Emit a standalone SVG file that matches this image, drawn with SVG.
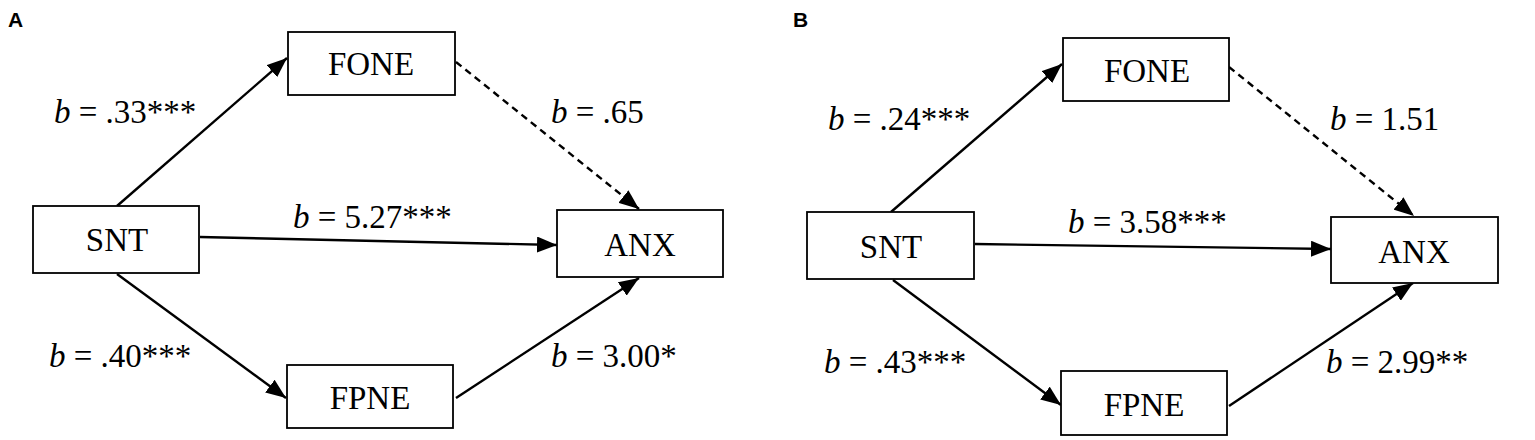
<svg xmlns="http://www.w3.org/2000/svg" width="1535" height="440" viewBox="0 0 1535 440">
<style>
.box{fill:#fff;stroke:#000;stroke-width:1.8}
.nt{font-family:"Liberation Serif",serif;font-size:33px;text-anchor:middle;fill:#000}
.lb{font-family:"Liberation Serif",serif;font-size:33px;fill:#000}
.pl{font-family:"Liberation Sans",Arial,sans-serif;font-size:21px;font-weight:bold;fill:#000}
.c{stroke:#000;stroke-width:2.4;fill:none;marker-end:url(#ah)}
.d{stroke-dasharray:7,5}
</style>
<defs>
<marker id="ah" markerUnits="userSpaceOnUse" markerWidth="22" markerHeight="16" refX="20" refY="8" orient="auto">
<path d="M0,0 L20,8 L0,16 Z" fill="#000"/>
</marker>
</defs>
<rect width="1535" height="440" fill="#fff"/>
<text class="pl" x="8" y="27">A</text>
<text class="pl" x="793" y="27">B</text>
<g id="connectors">
<line class="c" x1="117" y1="206" x2="287" y2="58"/>
<line class="c d" x1="456" y1="62" x2="639" y2="209"/>
<line class="c" x1="200" y1="237" x2="557" y2="245"/>
<line class="c" x1="117" y1="274" x2="286" y2="398"/>
<line class="c" x1="456" y1="398" x2="639" y2="278"/>
<line class="c" x1="891" y1="212" x2="1062" y2="64"/>
<line class="c d" x1="1229" y1="67" x2="1414" y2="216"/>
<line class="c" x1="975" y1="244" x2="1331" y2="249"/>
<line class="c" x1="893" y1="280" x2="1061" y2="405"/>
<line class="c" x1="1229" y1="406" x2="1413" y2="283"/>
</g>
<g id="A-FONE"><rect class="box" x="288" y="32" width="167" height="63"/><text class="nt" x="371" y="75">FONE</text></g>
<g id="A-SNT"><rect class="box" x="33" y="206" width="166" height="67"/><text class="nt" x="117" y="251">SNT</text></g>
<g id="A-ANX"><rect class="box" x="557" y="210" width="166" height="67"/><text class="nt" x="640" y="256">ANX</text></g>
<g id="A-FPNE"><rect class="box" x="287" y="365" width="166" height="63"/><text class="nt" x="370" y="409">FPNE</text></g>
<g id="B-FONE"><rect class="box" x="1063" y="38" width="166" height="63"/><text class="nt" x="1147" y="82">FONE</text></g>
<g id="B-SNT"><rect class="box" x="807" y="212" width="167" height="67"/><text class="nt" x="891" y="258">SNT</text></g>
<g id="B-ANX"><rect class="box" x="1331" y="217" width="167" height="66"/><text class="nt" x="1414" y="263">ANX</text></g>
<g id="B-FPNE"><rect class="box" x="1061" y="371" width="166" height="64"/><text class="nt" x="1144" y="416">FPNE</text></g>
<g id="labels">
<text class="lb" x="54" y="123"><tspan font-style="italic">b</tspan> = .33***</text>
<text class="lb" x="551" y="123"><tspan font-style="italic">b</tspan> = .65</text>
<text class="lb" x="293" y="228"><tspan font-style="italic">b</tspan> = 5.27***</text>
<text class="lb" x="49" y="367"><tspan font-style="italic">b</tspan> = .40***</text>
<text class="lb" x="551" y="367"><tspan font-style="italic">b</tspan> = 3.00*</text>
<text class="lb" x="828" y="130"><tspan font-style="italic">b</tspan> = .24***</text>
<text class="lb" x="1330" y="130"><tspan font-style="italic">b</tspan> = 1.51</text>
<text class="lb" x="1068" y="233"><tspan font-style="italic">b</tspan> = 3.58***</text>
<text class="lb" x="824" y="373"><tspan font-style="italic">b</tspan> = .43***</text>
<text class="lb" x="1326" y="373"><tspan font-style="italic">b</tspan> = 2.99**</text>
</g>
</svg>
